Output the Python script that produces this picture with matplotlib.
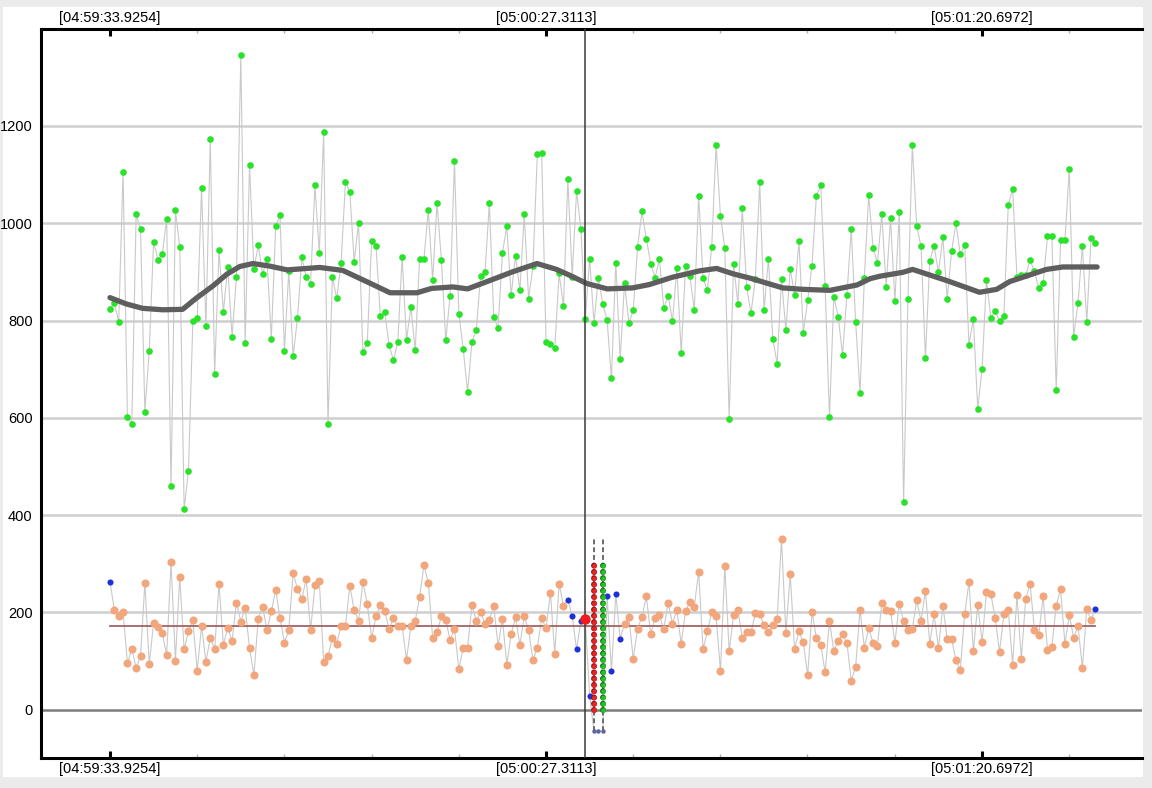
import numpy as np
import matplotlib.pyplot as plt
from matplotlib.patches import Rectangle

plt.rcParams['font.family'] = ['Liberation Sans', 'DejaVu Sans']

# sample values (green = upper series, lower = orange/blue series)
green_vals = [
    824, 836, 797, 1106, 602, 587, 1018, 988, 613, 738,
    962, 925, 936, 1009, 459, 1027, 951, 413, 491, 799,
    806, 1072, 788, 1173, 691, 945, 817, 910, 767, 889,
    1346, 753, 1119, 906, 955, 895, 927, 762, 994, 1016,
    738, 902, 727, 805, 930, 889, 876, 1078, 939, 1188,
    587, 889, 846, 919, 1085, 1064, 921, 1001, 736, 753,
    964, 954, 810, 817, 750, 718, 756, 931, 759, 828,
    739, 927, 927, 1027, 884, 1041, 925, 759, 851, 1127,
    814, 742, 653, 756, 780, 892, 899, 1041, 808, 784,
    939, 994, 852, 933, 862, 1018, 845, 911, 1142, 1144,
    756, 751, 743, 897, 829, 1090, 890, 1066, 987, 803,
    927, 795, 888, 834, 801, 681, 918, 720, 877, 795,
    821, 952, 1024, 968, 916, 888, 927, 825, 851, 799,
    907, 733, 913, 891, 821, 1056, 888, 862, 952, 1160,
    1015, 948, 598, 916, 834, 1032, 869, 815, 885, 1084,
    821, 927, 763, 711, 886, 780, 906, 853, 963, 774,
    842, 913, 1056, 1078, 870, 601, 849, 808, 729, 853,
    987, 797, 651, 888, 1058, 949, 918, 1019, 869, 1010,
    840, 1023, 427, 845, 1160, 994, 953, 722, 923, 953,
    899, 972, 844, 942, 1000, 936, 955, 750, 804, 618,
    701, 884, 806, 819, 799, 810, 1037, 1071, 890, 894,
    893, 924, 901, 866, 877, 974, 974, 657, 965, 965,
    1112, 767, 836, 953, 797, 970, 959]

lower_first = 263
lower_left = [
    206, 192, 201, 96, 125, 86, 110, 261, 94, 178,
    170, 157, 112, 304, 101, 273, 124, 161, 185, 79,
    173, 99, 148, 124, 259, 134, 168, 142, 220, 181,
    210, 127, 72, 187, 212, 164, 203, 246, 189, 138,
    164, 281, 248, 228, 269, 164, 256, 265, 99, 110,
    148, 135, 173, 172, 255, 205, 183, 263, 217, 148,
    192, 215, 203, 166, 188, 172, 172, 103, 172, 183,
    231, 298, 261, 148, 159, 192, 184, 144, 166, 83,
    127, 128, 215, 183, 200, 177, 185, 214, 131, 187,
    93, 155, 190, 133, 192, 164, 102, 128, 188, 168,
    241, 115, 259, 214]
mid_vals = [226, 193, 124, 183, 187, 29, -44, -44, -44, 234, 79, 238, 146]
mid_kind = ['b', 'b', 'b', 'b', 'sel', 'b', 's', 's', 's', 'b', 'b', 'b', 'b']
lower_right = [
    177, 190, 105, 167, 191, 233, 155, 189, 194, 166,
    220, 177, 205, 135, 204, 221, 212, 284, 125, 161,
    201, 192, 79, 295, 120, 194, 205, 148, 159, 159,
    198, 196, 174, 160, 174, 186, 352, 157, 279, 125,
    161, 139, 71, 201, 148, 134, 77, 183, 120, 142,
    155, 138, 60, 88, 206, 128, 168, 137, 132, 220,
    205, 203, 137, 218, 182, 164, 166, 225, 183, 244,
    136, 196, 127, 214, 146, 146, 102, 82, 197, 263,
    121, 216, 139, 242, 238, 189, 119, 197, 205, 93,
    235, 105, 228, 259, 165, 153, 234, 123, 130, 214,
    248, 136, 194, 148, 172, 86, 207, 185]
lower_last = 208

lower_mean = 172
col_top = 308
col_dash_top = 350
col_dash_bottom = -44

# smoothed trend of the green series (seconds, value)
trend_t = [0, 2.0, 4.0, 6.5, 8.9, 10.5, 12.6, 14.3, 15.9, 17.5, 19.5, 21.7,
           25.7, 28.5, 31.8, 34.3, 37.6, 39.4, 42.0, 43.8, 46.5, 49.3, 52.3,
           54.7, 56.3, 58.4, 60.9, 64.0, 66.1, 68.9, 72.2, 74.3, 76.3, 78.4,
           82.4, 84.9, 88.2, 91.5, 93.1, 94.3, 97.1, 98.3, 102.5, 106.5,
           108.6, 110.2, 114.7, 116.7, 120.9]
trend_v = [847, 834, 825, 822, 823, 845, 871, 895, 911, 917, 912, 904,
           909, 903, 877, 857, 857, 866, 869, 865, 882, 900, 917,
           905, 893, 876, 865, 867, 874, 889, 902, 907, 896, 887,
           867, 864, 862, 873, 886, 891, 899, 905, 882, 858,
           864, 880, 905, 910, 910]

t_last = 120.7
major_step = 53.3859
tick_labels = ['[04:59:33.9254]', '[05:00:27.3113]', '[05:01:20.6972]']

lower_vals = [lower_first] + lower_left + mid_vals + lower_right + [lower_last]
kinds = ['b'] + ['o'] * len(lower_left) + mid_kind + ['o'] * len(lower_right) + ['b']
t = np.linspace(0, t_last, len(green_vals))
lower_vals = np.array(lower_vals)
kinds = np.array(kinds)

fig = plt.figure(figsize=(11.52, 7.88), dpi=100, facecolor='#ebebeb')
fig.add_artist(Rectangle((3 / 1152, 11 / 788), 1140 / 1152, 770 / 788,
                         transform=fig.transFigure, facecolor='white',
                         edgecolor='none', zorder=0))
ax = fig.add_axes([41 / 1152, 30 / 788, 1101 / 1152, 729 / 788])
ax.set_facecolor('white')

for v in range(200, 1400, 200):
    ax.axhline(v, color='#cfcfcf', lw=1.8, zorder=1)
ax.axhline(0, color='#7d7d7d', lw=1.8, zorder=1)

# upper series
ax.plot(t, green_vals, color='#c9c9c9', lw=0.8, zorder=2)
ax.plot(t, green_vals, 'o', color='#2ae22a', ms=4.8, mec='none', zorder=3)
ax.plot(trend_t, trend_v, color='#5e5e5e', lw=3.8, solid_capstyle='round',
        solid_joinstyle='round', zorder=4)

# lower series
ax.plot(t, lower_vals, color='#c9c9c9', lw=0.8, zorder=2)
ax.plot([0, t_last], [lower_mean, lower_mean], color='#a06464', lw=1.3, zorder=3)
o = kinds == 'o'
ax.plot(t[o], lower_vals[o], 'o', color='#f2a67c', ms=5.8, mec='none', zorder=4)
b = kinds == 'b'
ax.plot(t[b], lower_vals[b], 'o', color='#1a30d8', ms=4.4, mec='none', zorder=5)
s = kinds == 's'
ax.plot(t[s], lower_vals[s], 'o', color='#5a64a8', ms=3.2, mec='none', zorder=5)

sel = np.where(kinds == 'sel')[0][0]
ax.axvline(t[sel], color='#3a3a3a', lw=1.1, zorder=6)
ax.plot(t[sel], lower_vals[sel], 'o', color='#ee1c1c', ms=7.5, mec='none', zorder=7)

# stacked columns at the first and last flagged samples
s_idx = np.where(s)[0]
for idx, col, edge in [(s_idx[0], '#ee2020', '#8a1a1a'), (s_idx[-1], '#22c422', '#1a6a1a')]:
    ax.plot([t[idx], t[idx]], [col_dash_bottom, col_dash_top], color='#6a6a6a',
            lw=1.4, ls=(0, (2.5, 1.5)), zorder=5)
    ax.plot([t[idx], t[idx]], [0, col_top], color=edge, lw=4.3,
            ls=(0, (0.001, 1.05)), dash_capstyle='round', zorder=6)
    ax.plot([t[idx], t[idx]], [0, col_top], color=col, lw=3.5,
            ls=(0, (0.001, 1.29)), dash_capstyle='round', zorder=6)

ax.set_xlim(-8.45, 126.4)
ax.set_ylim(-99, 1399)

majors = [i * major_step for i in range(3)]
ax.set_xticks(majors)
ax.set_xticklabels(tick_labels)
ax.set_xticks([k * major_step / 5 for k in range(12) if k % 5], minor=True)
ax.tick_params(axis='x', which='major', top=True, bottom=True, labeltop=True,
               labelbottom=True, direction='in', length=5, width=2.2,
               color='black', labelsize=10.5, pad=3)
ax.tick_params(axis='x', which='minor', top=True, bottom=True, direction='in',
               length=3, width=1, color='#b0b0b0')

ax.set_yticks(list(range(0, 1400, 200)))
ax.tick_params(axis='y', length=0, labelsize=10.5, pad=6)

for side in ['left', 'top', 'bottom']:
    ax.spines[side].set_linewidth(2.2)
    ax.spines[side].set_color('black')
ax.spines['right'].set_visible(False)

fig.savefig('out.png', dpi=100, facecolor=fig.get_facecolor())
